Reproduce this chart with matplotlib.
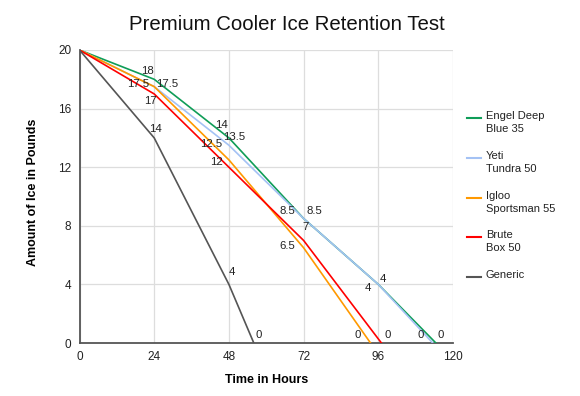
import matplotlib
matplotlib.use("Agg")
import matplotlib.pyplot as plt
from matplotlib.lines import Line2D

plt.rcParams['font.family'] = ['Liberation Sans', 'DejaVu Sans']

title = "Premium Cooler Ice Retention Test"
xlabel = "Time in Hours"
ylabel = "Amount of Ice in Pounds"

series_names = ["Engel Deep\nBlue 35", "Yeti\nTundra 50", "Igloo\nSportsman 55", "Brute\nBox 50", "Generic"]

engel_hours = [0, 24, 48, 72, 96, 114.5]
engel_ice = [20, 18, 14, 8.5, 4, 0]
yeti_hours = [0, 24, 48, 72, 96, 113.5]
yeti_ice = [20, 17.5, 13.5, 8.5, 4, 0]
igloo_hours = [0, 24, 48, 72, 93.5]
igloo_ice = [20, 17.5, 12.5, 6.5, 0]
brute_hours = [0, 24, 48, 72, 97]
brute_ice = [20, 17, 12, 7, 0]
generic_hours = [0, 24, 48, 56]
generic_ice = [20, 14, 4, 0]

x_ticks = [0, 24, 48, 72, 96, 120]
y_ticks = [0, 4, 8, 12, 16, 20]

colors = ["#0f9d58", "#a4c2f4", "#ff9900", "#ff0000", "#555555"]

# label offsets in pixels (style)
offsets = [
    [None, (-6.5, 8), (-7, 12.6), (10.5, 7), (5, 5), (5, 8)],
    [None, (12.5, 3), (5, 8), (-16.5, 7), (-10, -4), (-12, 8)],
    [None, (-16.5, 3), (-18, 15.6), (-16.5, 1.5), (-13, 8)],
    [None, (-3.5, -7.4), (-12, 5), (2.5, 13), (6, 8)],
    [None, (1.5, 8.6), (3, 12), (5, 8)],
]

fig = plt.figure(figsize=(5.8, 3.96), dpi=100)
W, H = 580, 396
ax = fig.add_axes([79.5 / W, 1 - 343 / H, (453 - 79.5) / W, (343 - 50) / H])

data = [(engel_hours, engel_ice), (yeti_hours, yeti_ice), (igloo_hours, igloo_ice),
        (brute_hours, brute_ice), (generic_hours, generic_ice)]

for (xs, ys), c, offs in zip(data, colors, offsets):
    ax.plot(xs, ys, color=c, lw=1.2, zorder=3, solid_joinstyle='round')
    for x, y, o in zip(xs, ys, offs):
        if o is None:
            continue
        lab = ("%g" % y)
        ax.annotate(lab, (x, y), xytext=o, textcoords='offset pixels',
                    ha='center', va='center', fontsize=8.2, color='#222222', zorder=4)

ax.set_xlim(0, 120)
ax.set_ylim(0, 20)
ax.set_xticks(x_ticks)
ax.set_yticks(y_ticks)
ax.grid(True, color='#dddddd', lw=0.9)
ax.set_axisbelow(True)
for s in ['top', 'right']:
    ax.spines[s].set_visible(False)
for s in ['left', 'bottom']:
    ax.spines[s].set_color('#555555')
    ax.spines[s].set_linewidth(1.3)
ax.tick_params(length=0, labelsize=8.5, colors='#222222', pad=6)
ax.set_xlabel(xlabel, fontsize=9, fontweight='bold', labelpad=8)
ax.set_ylabel(ylabel, fontsize=9, fontweight='bold', labelpad=7)
ax.yaxis.set_label_coords(39 / W, 1 - 192 / H, transform=fig.transFigure)

fig.text(286.5 / W, 1 - 24 / H, title, ha='center', va='center', fontsize=14.7, color='#111111')

# legend
leg_y = [118, 158, 198, 237, 277]
for name, c, yy in zip(series_names, colors, leg_y):
    fig.add_artist(Line2D([467 / W, 481 / W], [1 - yy / H, 1 - yy / H], color=c, lw=1.5,
                          transform=fig.transFigure))
    fig.text(486 / W, 1 - (yy - 7) / H, name, ha='left', va='top', fontsize=8,
             color='#222222', linespacing=1.35)

fig.savefig("out.png", dpi=100)
